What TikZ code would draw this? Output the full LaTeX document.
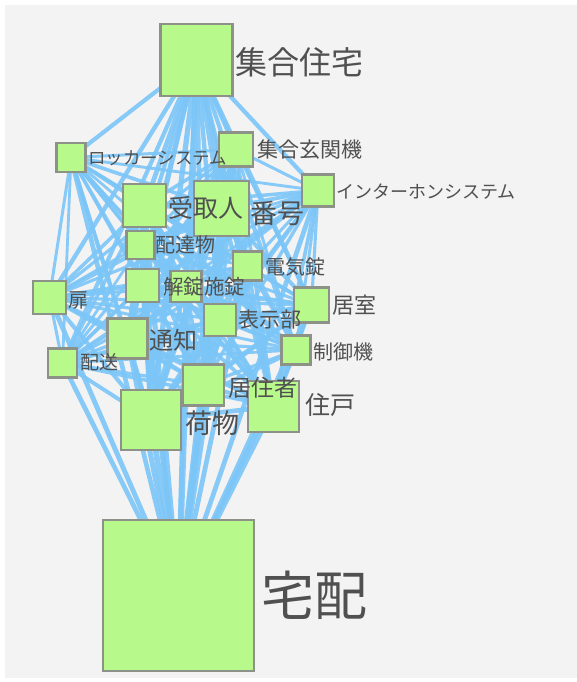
\documentclass[tikz,border=0pt]{standalone}
\usepackage{fontspec}
\newfontfamily\jp{Noto Sans CJK JP}
\definecolor{bggray}{HTML}{F3F3F3}
\definecolor{boxgreen}{HTML}{B8F98C}
\definecolor{boxline}{HTML}{8C9288}
\definecolor{edgeblue}{HTML}{7CC6F8}
\definecolor{labgray}{HTML}{505050}
\pgfdeclarelayer{back}
\pgfdeclarelayer{edges}
\pgfsetlayers{back,edges,main}
\begin{document}
\begin{tikzpicture}[x=1pt,y=-1pt,
  box/.style={draw=boxline, line width=2.2pt, fill=boxgreen, minimum size=#1, inner sep=0pt, outer sep=0pt},
  lab/.style={anchor=west, inner sep=0pt, text=labgray, font=\jp\fontsize{#1}{#1}\selectfont},
  link/.style={draw=edgeblue, line width=#1, draw opacity=0.9}]
\useasboundingbox (0,0) rectangle (577,682);
\begin{pgfonlayer}{back}
  \fill[white] (0,0) rectangle (577,682);
  \fill[bggray] (5,5) rectangle (577,678);
\end{pgfonlayer}
% boxes
\node[box=72pt] (jyutaku) at (196.5,60) {};
\node[box=29pt] (locker) at (71,157.5) {};
\node[box=34pt] (genkan) at (236,149.5) {};
\node[box=32pt] (inter) at (318,190.5) {};
\node[box=43pt] (uketori) at (144.5,205.5) {};
\node[box=55pt] (bango) at (221.5,208.5) {};
\node[box=28pt] (haitatsu) at (140.5,245) {};
\node[box=29pt] (denki) at (247.5,266) {};
\node[box=33pt] (kaijo) at (142.5,285.5) {};
\node[box=31pt] (sejo) at (186,286.5) {};
\node[box=33pt] (tobira) at (49.5,297.5) {};
\node[box=35pt] (kyoshitsu) at (311.5,305) {};
\node[box=32pt] (hyoji) at (220,320) {};
\node[box=40pt] (tsuchi) at (127.5,338.5) {};
\node[box=29pt] (seigyo) at (296,350) {};
\node[box=29pt] (haiso) at (62.5,363) {};
\node[box=41pt] (kyojusha) at (203.5,385) {};
\node[box=51pt] (jyuko) at (273.5,406.5) {};
\node[box=60pt] (nimotsu) at (151,420) {};
\node[box=151pt] (takuhai) at (178.5,595.5) {};
% labels
\node[lab=32] (ljyutaku) at (235,62) {集合住宅};
\node[lab=17.5] (llocker) at (88,158) {ロッカーシステム};
\node[lab=21] (lgenkan) at (257,150) {集合玄関機};
\node[lab=18] (linter) at (336,192) {インターホンシステム};
\node[lab=25] (luketori) at (168,208) {受取人};
\node[lab=27] (lbango) at (250,213) {番号};
\node[lab=20] (lhaitatsu) at (155,245) {配達物};
\node[lab=20] (ldenki) at (265,267) {電気錠};
\node[lab=20.5] (lkaijo) at (163,287) {解錠};
\node[lab=20.5] (lsejo) at (204,287) {施錠};
\node[lab=20] (ltobira) at (68,300) {扉};
\node[lab=22] (lkyoshitsu) at (332,305) {居室};
\node[lab=21] (lhyoji) at (238,320) {表示部};
\node[lab=24] (ltsuchi) at (149,340) {通知};
\node[lab=20] (lseigyo) at (313,352) {制御機};
\node[lab=19] (lhaiso) at (80,362) {配送};
\node[lab=23] (lkyojusha) at (228,388) {居住者};
\node[lab=25] (ljyuko) at (305,405) {住戸};
\node[lab=27] (lnimotsu) at (185,423) {荷物};
\node[lab=53] (ltakuhai) at (261,595) {宅配};
% edges
\begin{pgfonlayer}{edges}
\foreach \a/\wa [count=\i] in {jyutaku/5.5,locker/2.8,genkan/3.2,inter/3,uketori/4,bango/4.6,haitatsu/2.8,denki/3,kaijo/3.2,sejo/3,tobira/3.2,kyoshitsu/3.2,hyoji/3.2,tsuchi/3.6,seigyo/2.8,haiso/2.8,kyojusha/3.8,jyuko/4.2,nimotsu/5,takuhai/6.5}{
  \foreach \b/\wb [count=\j] in {jyutaku/5.5,locker/2.8,genkan/3.2,inter/3,uketori/4,bango/4.6,haitatsu/2.8,denki/3,kaijo/3.2,sejo/3,tobira/3.2,kyoshitsu/3.2,hyoji/3.2,tsuchi/3.6,seigyo/2.8,haiso/2.8,kyojusha/3.8,jyuko/4.2,nimotsu/5,takuhai/6.5}{
    \ifnum\j>\i
      \pgfmathsetmacro\ww{(\wa+\wb)/2}
      \draw[link=\ww pt] (\a.center) -- (\b.center);
    \fi
  }
}
\end{pgfonlayer}
\end{tikzpicture}
\end{document}
